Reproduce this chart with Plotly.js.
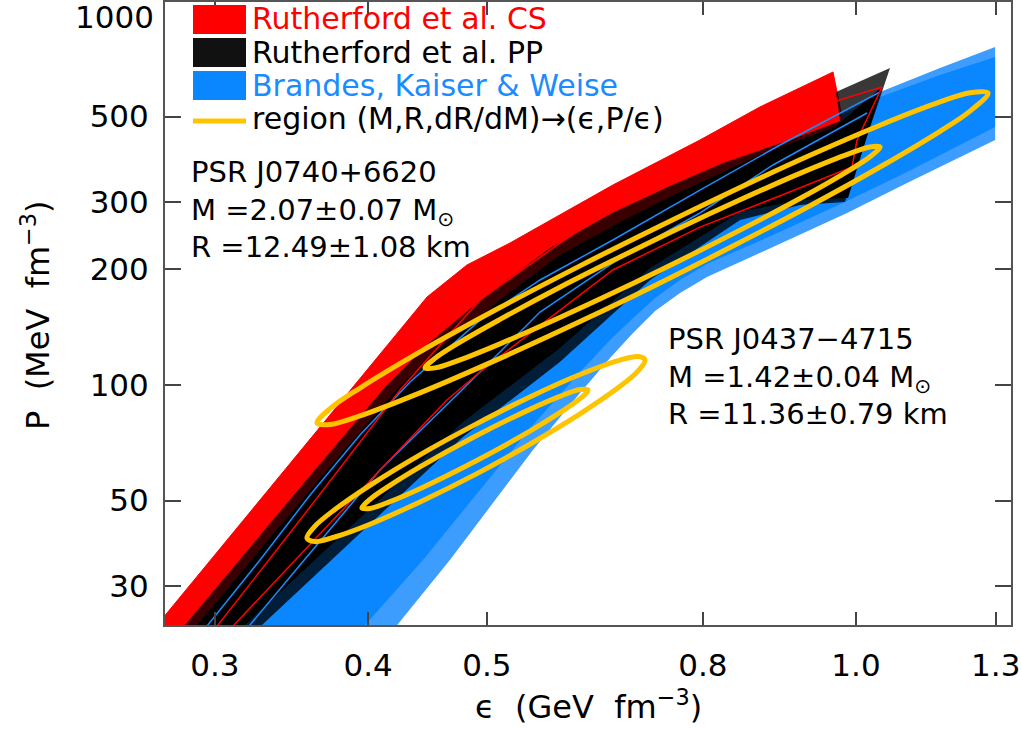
<!DOCTYPE html>
<html>
<head>
<meta charset="utf-8">
<script src="https://cdn.plot.ly/plotly-3.0.1.min.js"></script>
<style>html,body{margin:0;padding:0;background:#fff;}#chart{width:1021px;height:729px;}</style>
</head>
<body>
<div id="chart"></div>
<script>
// ---- axis ticks ----
const epsTickVals = [0.3, 0.4, 0.5, 0.75, 1.0, 1.3];
const epsTickText = ['0.3', '0.4', '0.5', '0.8', '1.0', '1.3'];
const pTickVals = [30, 50, 100, 200, 300, 500];
const pTickText = ['30', '50', '100', '200', '300', '500'];

// ---- Brandes, Kaiser & Weise band (outer / inner) ----
const bkwOuterEps = [0.2894,0.2961,0.3265,0.3587,0.3939,0.4328,0.4935,0.5524,0.6334,0.7459,0.8670,1.0461,1.1708,1.2985,1.2985,1.1005,0.9833,0.8556,0.7558,0.7185,0.6857,0.6579,0.6300,0.5955,0.5451,0.4664,0.4231,0.4129];
const bkwOuterP   = [21.67,23.71,35.02,51.70,74.10,101.8,147.6,187.7,238.6,321.9,421.7,579.4,669.2,759.0,434.5,335.7,280.5,228.8,191.1,173.6,155.8,136.6,117.6,95.3,67.73,35.02,23.71,21.67];
const bkwInnerEps = [0.2894,0.2961,0.3265,0.3587,0.3939,0.4328,0.4935,0.5524,0.6334,0.7459,0.8670,1.0461,1.1708,1.2985,1.2985,1.1005,0.9833,0.8556,0.7558,0.7185,0.6857,0.6579,0.6300,0.5955,0.5451,0.4935,0.4434,0.3977,0.3866];
const bkwInnerP   = [21.67,23.71,35.02,51.70,74.10,101.8,147.6,187.7,238.6,321.9,421.7,562.3,641.7,714.6,469.8,358.7,301.4,245.8,206.6,187.7,168.5,149.4,131.0,108.1,78.67,53.3,35.02,23.71,21.03];
const bkwLineAEps = [0.2894,0.2961,0.3265,0.3587,0.3939,0.4328,0.4935,0.5524,0.6334,0.7459,0.8670,1.0461];
const bkwLineAP   = [21.67,23.71,35.02,51.70,74.10,101.8,147.6,187.7,238.6,321.9,421.7,579.4];
const bkwLineBEps = [0.3145,0.3204,0.3520,0.4090,0.4771,0.5524,0.6420,0.7459,0.8556,1.0209];
const bkwLineBP   = [21.67,23.71,33.98,60.07,97.05,154.9,214.1,280.5,374.1,510.8];

// ---- Rutherford et al. CS band ----
const csEps = [0.2630,0.2742,0.4468,0.4816,0.5221,0.5734,0.6334,0.7459,0.8348,0.9577,0.9925,0.8621,0.7459,0.6334,0.5597,0.4935,0.4638,0.4090,0.3520,0.3115,0.3028];
const csP   = [21.67,25.49,169.5,205.4,234.3,277.1,331.7,434.5,529.7,653.3,369.6,308.7,257.8,199.3,147.6,108.1,91.40,60.07,36.08,23.71,21.67];
const csLine1Eps = [0.9925,1.0019,1.0500,0.9122,0.8043,0.7558,0.6666,0.5734,0.4935,0.4247,0.3520,0.3017,0.2944];
const csLine1P   = [369.6,434.5,597.0,520.1,453.2,409.3,321.9,234.3,166.5,97.05,44.50,23.71,21.67];
const csLine2Eps = [0.9925,0.8621,0.7459,0.6334,0.5597,0.4935,0.4638,0.4090,0.3520,0.3115,0.3028];
const csLine2P   = [369.6,308.7,257.8,199.3,147.6,108.1,91.40,60.07,36.08,23.71,21.67];

// ---- Rutherford et al. PP band (outer / inner) ----
const ppOuterEps = [0.2767,0.2836,0.3573,0.4137,0.4476,0.5010,0.5629,0.6324,0.7078,0.7789,0.8835,0.9704,0.9631,1.0659,0.9795,0.9000,0.8043,0.6792,0.5734,0.4780,0.3277,0.3174];
const ppOuterP   = [21.54,23.71,57.25,99.40,127.9,172.6,227.5,280.5,331.7,378.6,434.5,486.9,579.4,669.2,299.6,294.3,268.9,187.7,114.8,73.22,23.71,21.54];
const ppInnerEps = [0.2830,0.2901,0.3655,0.4231,0.4577,0.5124,0.5734,0.6420,0.7185,0.8348,0.9613,1.0500,0.9851,0.9000,0.8043,0.6792,0.5734,0.4780,0.3174,0.3086];
const ppInnerP   = [21.54,23.71,57.25,98.2,124.8,166.5,218.0,265.7,318.2,397.2,469.8,597.0,306.9,303.2,282.2,201.7,124.8,80.1,23.71,21.54];

// ---- regions (M,R,dR/dM) -> (eps, P/eps) ----
const j0740OuterEps = [0.3634,0.3724,0.3939,0.4409,0.5124,0.5955,0.6823,0.7893,0.9173,1.0461,1.1708,1.2388,1.2813,1.2388,1.1708,1.0461,0.9173,0.7893,0.6823,0.5955,0.5124,0.4409,0.3939,0.3724,0.3634];
const j0740OuterP   = [79.6,86.8,98.2,122.0,159.1,204.3,253.8,317.8,396.5,474.9,546.0,577.0,575.9,516.8,457.8,369.6,293.0,228.0,180.3,146.3,117.3,95.4,83.1,78.9,79.6];
const j0740InnerEps = [0.4451,0.4535,0.4753,0.5124,0.5734,0.6420,0.7185,0.8043,0.9000,0.9888,1.0266,1.0461,1.0266,0.9888,0.9000,0.8043,0.7185,0.6420,0.5734,0.5124,0.4753,0.4535,0.4451];
const j0740InnerP   = [110.7,117.3,129.3,148.2,179.7,215.4,256.8,303.6,355.8,401.1,416.8,416.8,392.9,363.5,305.9,253.1,211.0,177.2,149.9,128.0,116.3,110.8,110.7];
const j0437OuterEps = [0.3566,0.3620,0.3758,0.4014,0.4409,0.4898,0.5420,0.5955,0.6420,0.6642,0.6729,0.6642,0.6420,0.5955,0.5420,0.4898,0.4409,0.4014,0.3758,0.3620,0.3566];
const j0437OuterP   = [39.95,42.9,47.4,54.8,65.8,79.1,93.1,106.5,116.1,118.6,116.2,108.9,99.2,84.1,70.1,58.6,49.6,43.4,40.2,39.1,39.95];
const j0437InnerEps = [0.3954,0.4014,0.4168,0.4409,0.4888,0.5420,0.5734,0.5955,0.6045,0.5955,0.5734,0.5420,0.4888,0.4409,0.4168,0.4014,0.3954];
const j0437InnerP   = [47.8,50.4,54.8,61.2,73.4,86.4,93.4,97.3,97.0,92.1,84.7,75.8,63.2,53.7,49.7,47.7,47.8];

// ---- text ----
const legendLabels = ['Rutherford et al. CS', 'Rutherford et al. PP', 'Brandes, Kaiser &amp; Weise', 'region (M,R,dR/dM)\u2192(\u03f5,P/\u03f5)'];
const psr1Lines = ['PSR J0740+6620', 'M =2.07\u00b10.07 M<sub>\u2299</sub>', 'R =12.49\u00b11.08 km'];
const psr2Lines = ['PSR J0437\u22124715', 'M =1.42\u00b10.04 M<sub>\u2299</sub>', 'R =11.36\u00b10.79 km'];

const FONT = 'DejaVu Sans';
const RED = '#ff0000', BLUE = '#0a86ff', BLUE_LIGHT = '#3d9dff', YELLOW = '#ffc400', BLUE_TXT = '#1a8cff';

function band(x, y, fill, lineColor, lw) {
  return {x: x, y: y, type: 'scatter', mode: 'lines', fill: 'toself', fillcolor: fill,
          line: {color: lineColor || fill, width: lw || 0}, hoverinfo: 'skip', showlegend: false};
}
function curve(x, y, color, w, spline) {
  return {x: x, y: y, type: 'scatter', mode: 'lines',
          line: {color: color, width: w, shape: spline ? 'spline' : 'linear', smoothing: 1},
          hoverinfo: 'skip', showlegend: false};
}

const traces = [
  band(bkwOuterEps, bkwOuterP, BLUE_LIGHT),
  band(bkwInnerEps, bkwInnerP, BLUE),
  band(csEps, csP, RED, RED, 1),
  band(ppOuterEps, ppOuterP, 'rgba(0,0,0,0.78)'),
  band(ppInnerEps, ppInnerP, '#000000'),
  curve(bkwLineAEps, bkwLineAP, BLUE_TXT, 1.5, false),
  curve(bkwLineBEps, bkwLineBP, BLUE_TXT, 1.5, false),
  curve(csLine1Eps, csLine1P, RED, 1.5, false),
  curve(csLine2Eps, csLine2P, RED, 1.5, false),
  curve(j0740OuterEps, j0740OuterP, YELLOW, 5, true),
  curve(j0740InnerEps, j0740InnerP, YELLOW, 5, true),
  curve(j0437OuterEps, j0437OuterP, YELLOW, 5, true),
  curve(j0437InnerEps, j0437InnerP, YELLOW, 5, true)
];

// plot area in pixels: x 165..1011, y 2..625
function px(xp) { return (xp - 165) / 846; }
function py(yp) { return (625 - yp) / 623; }

const annotations = [];
const legendColors = [RED, '#000000', BLUE_TXT, '#000000'];
const legendY = [18.5, 52.5, 85, 118.5];
legendLabels.forEach((t, i) => annotations.push({
  xref: 'paper', yref: 'paper', x: px(250), y: py(legendY[i]), xanchor: 'left', yanchor: 'middle',
  text: t, showarrow: false, font: {family: FONT, size: 30, color: legendColors[i]}
}));
annotations.push({
  xref: 'paper', yref: 'paper', x: px(189), y: py(210), xanchor: 'left', yanchor: 'middle', align: 'left',
  text: psr1Lines.join('<br>'), showarrow: false, font: {family: FONT, size: 29, color: '#000'}
});
annotations.push({
  xref: 'paper', yref: 'paper', x: px(666), y: py(376), xanchor: 'left', yanchor: 'middle', align: 'left',
  text: psr2Lines.join('<br>'), showarrow: false, font: {family: FONT, size: 29, color: '#000'}
});
// axis titles and the top tick label
annotations.push({xref: 'paper', yref: 'paper', x: 0.5, y: py(705), xanchor: 'center', yanchor: 'middle',
  text: '\u03f5\u00a0 (GeV\u00a0 fm<sup>\u22123</sup>)', showarrow: false, font: {family: FONT, size: 32, color: '#000'}});
annotations.push({xref: 'paper', yref: 'paper', x: px(36), y: py(315), xanchor: 'center', yanchor: 'middle', textangle: -90,
  text: 'P\u00a0 (MeV\u00a0 fm<sup>\u22123</sup>)', showarrow: false, font: {family: FONT, size: 32, color: '#000'}});
annotations.push({xref: 'paper', yref: 'paper', x: px(156), y: py(17), xanchor: 'right', yanchor: 'middle',
  text: '1000', showarrow: false, font: {family: FONT, size: 31, color: '#000'}});

const shapes = [
  {type: 'rect', xref: 'paper', yref: 'paper', x0: px(193), x1: px(246), y0: py(34), y1: py(5), fillcolor: RED, line: {width: 0}},
  {type: 'rect', xref: 'paper', yref: 'paper', x0: px(193), x1: px(246), y0: py(67), y1: py(38), fillcolor: '#111', line: {width: 0}},
  {type: 'rect', xref: 'paper', yref: 'paper', x0: px(193), x1: px(246), y0: py(100), y1: py(71), fillcolor: BLUE, line: {width: 0}},
  {type: 'line', xref: 'paper', yref: 'paper', x0: px(193), x1: px(246), y0: py(121), y1: py(121), line: {color: YELLOW, width: 5}}
];

const axisCommon = {
  type: 'log', showgrid: false, zeroline: false, showline: true, mirror: 'ticks',
  linecolor: '#555', linewidth: 2, ticks: 'inside', tickcolor: '#444', tickwidth: 2,
  tickfont: {family: FONT, size: 31, color: '#000'}, tickmode: 'array'
};

const layout = {
  width: 1021, height: 729,
  margin: {l: 165, r: 10, t: 2, b: 104},
  paper_bgcolor: '#fff', plot_bgcolor: '#fff',
  showlegend: false,
  xaxis: Object.assign({}, axisCommon, {
    range: [-0.5636, 0.1264], tickvals: epsTickVals, ticktext: epsTickText, ticklen: 13, ticklabelstandoff: 12
  }),
  yaxis: Object.assign({}, axisCommon, {
    range: [1.375, 2.9974], tickvals: pTickVals, ticktext: pTickText, ticklen: 16, ticklabelstandoff: 8
  }),
  annotations: annotations,
  shapes: shapes
};

Plotly.newPlot('chart', traces, layout, {displayModeBar: false, staticPlot: true});
</script>
</body>
</html>
